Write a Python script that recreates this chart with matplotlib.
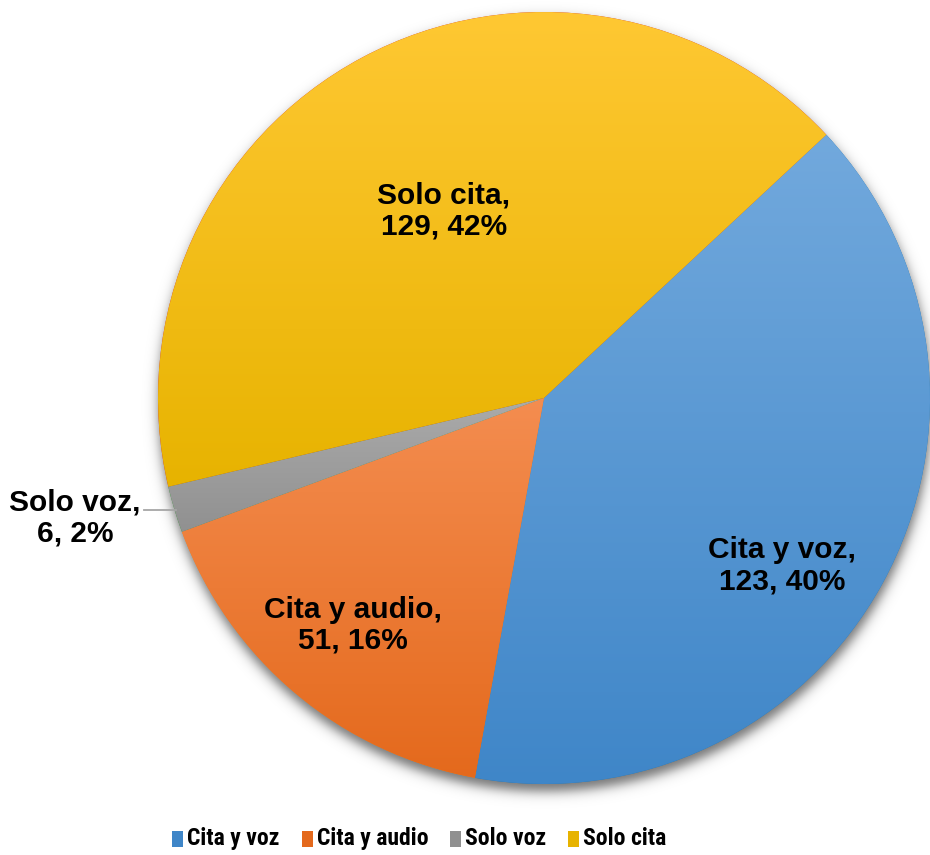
import numpy as np
import matplotlib
matplotlib.use("Agg")
from matplotlib import pyplot as plt
from matplotlib import font_manager
from matplotlib.patches import Rectangle
from matplotlib.colors import to_rgb

# data
categories = ["Cita y voz", "Cita y audio", "Solo voz", "Solo cita"]
values = [123, 51, 6, 129]
percents = ["40%", "16%", "2%", "42%"]

# gradient colours (top, bottom) per slice
top_colors = ["#72a9dd", "#f48d50", "#ababab", "#ffc833"]
bottom_colors = ["#3f86c8", "#e4691c", "#909090", "#e7b300"]

W, H = 930, 855
fig = plt.figure(figsize=(W / 100, H / 100), dpi=100)
ax = fig.add_axes([0, 0, 1, 1])

cx, cy, R = 544, H - 398, 386

wedges, _ = ax.pie(values, startangle=43, counterclock=False, radius=R,
                   center=(cx, cy), wedgeprops=dict(linewidth=0))

ax.set_xlim(0, W)
ax.set_ylim(0, H)
ax.set_aspect("equal")
ax.axis("off")

# soft shadow, mostly below the pie
yy, xx = np.mgrid[0:H, 0:W]
d = np.sqrt((xx - cx) ** 2 + (yy - (cy - 8)) ** 2) - R
alpha = 0.55 / (1 + np.exp(d / 3.5))
shadow = np.zeros((H, W, 4))
shadow[..., 3] = alpha
ax.imshow(shadow, extent=(0, W, 0, H), origin="lower", zorder=0.5,
          interpolation="bilinear")

# vertical gradient inside each wedge
for w, c0, c1 in zip(wedges, top_colors, bottom_colors):
    th = np.radians(np.linspace(w.theta1, w.theta2, 200))
    ys = np.concatenate([[cy], cy + R * np.sin(th)])
    xs = np.concatenate([[cx], cx + R * np.cos(th)])
    y0, y1 = ys.min(), ys.max()
    t = np.linspace(0, 1, 256)[:, None]
    grad = (1 - t) * np.array(to_rgb(c1)) + t * np.array(to_rgb(c0))
    img = grad[:, None, :]
    im = ax.imshow(img, extent=(xs.min() - 2, xs.max() + 2, y0 - 2, y1 + 2),
                   origin="lower", aspect="auto", zorder=2, interpolation="bilinear")
    im.set_clip_path(w)
    w.set_zorder(1)

ax.set_xlim(0, W)
ax.set_ylim(0, H)

# data labels (radius factor, angle tweak)
label_pos = [(0.755, -6.5), (0.77, 0), (1.254, -2.4), (0.55, 0)]
for w, cat, v, p, (rf, dt) in zip(wedges, categories, values, percents, label_pos):
    ang = np.radians((w.theta1 + w.theta2) / 2 + dt)
    x = cx + rf * R * np.cos(ang)
    y = cy + rf * R * np.sin(ang)
    ax.text(x, y, "{},\n{}, {}".format(cat, v, p), ha="center", va="center",
            fontsize=21.5, fontweight="bold", family="Liberation Sans",
            linespacing=1.12, zorder=5)

# leader line for the small slice
sv = wedges[2]
ang = np.radians((sv.theta1 + sv.theta2) / 2)
ex, ey = cx + R * np.cos(ang), cy + R * np.sin(ang)
ax.plot([ex - 30, ex + 2], [ey - 1, ey - 1], color="#a6a6a6", lw=1.3, zorder=4)

# legend font: a narrow face if one is around
names = set(f.name for f in font_manager.fontManager.ttflist)
leg_font, leg_size = "Liberation Sans", 15
for cand in ["Liberation Sans Narrow", "Arial Narrow", "DejaVu Sans Condensed",
             "Roboto Condensed", "Open Sans Condensed"]:
    if cand in names:
        leg_font, leg_size = cand, 17
        break

leg_x = [172, 302, 450, 568]
for xpos, cat, c0, c1 in zip(leg_x, categories, top_colors, bottom_colors):
    ax.add_patch(Rectangle((xpos, H - 847), 11, 16, color=c1, lw=0, zorder=5))
    ax.text(xpos + 15, H - 838, cat, ha="left", va="center", fontsize=leg_size,
            fontweight="bold", family=[leg_font, "Liberation Sans"],
            zorder=5)

fig.savefig("out.png", dpi=100)
